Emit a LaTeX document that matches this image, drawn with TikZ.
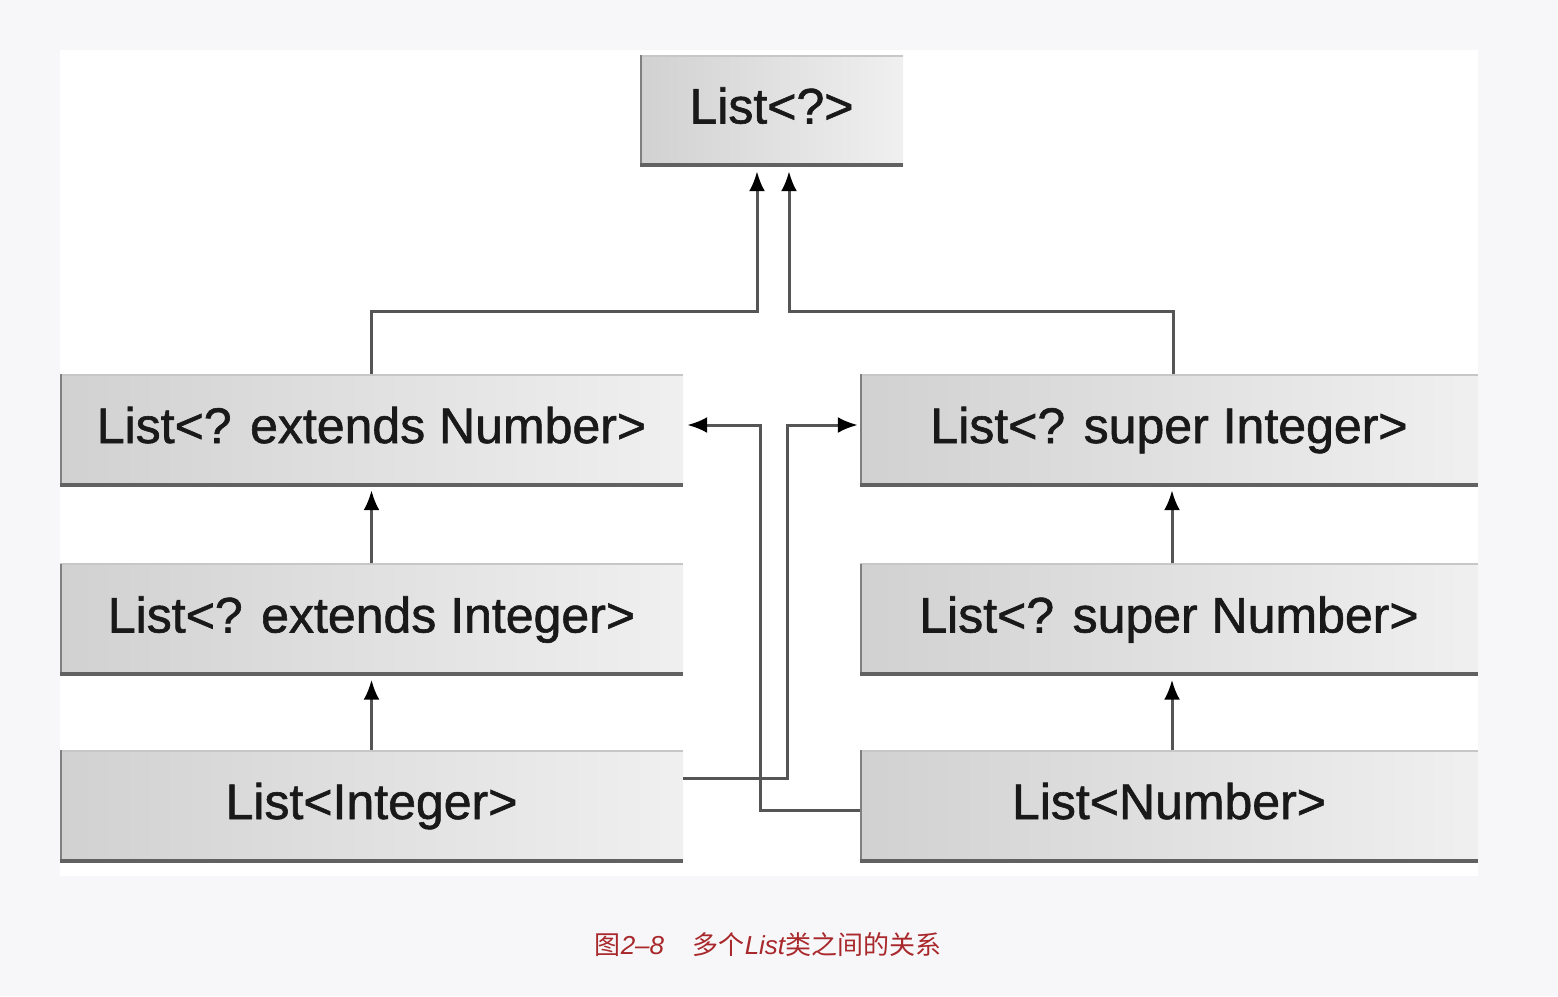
\documentclass[tikz,border=0pt]{standalone}
\usepackage{fontspec}
\setmainfont{Liberation Sans}
\newfontfamily\boxfont[FakeBold=1.2]{Liberation Sans}
\newfontfamily\cjkfont{Noto Sans CJK SC}
\usetikzlibrary{arrows.meta}
\usetikzlibrary{calc}
\definecolor{panelbg}{HTML}{F7F7F9}
\definecolor{linegray}{HTML}{555555}
\definecolor{captionred}{HTML}{A8282C}

\tikzset{
  listbox/.style={minimum height=112pt, inner sep=0pt, left color=black!18, right color=black!6,
    text=black!90, font=\boxfont\fontsize{50}{60}\selectfont, text height=36pt, text depth=10pt,
    path picture={
      \draw[black!22, line width=3pt] (path picture bounding box.north west) -- (path picture bounding box.north east);
      \draw[black!50, line width=3pt] (path picture bounding box.north west) -- (path picture bounding box.south west);
      \draw[black!62, line width=7pt] (path picture bounding box.south west) -- (path picture bounding box.south east);
    }},
  link/.style={draw=linegray, line width=3pt},
  arr/.style={link, -{Latex[length=20pt,width=16pt,color=black]}},
}

\begin{document}
\begin{tikzpicture}[x=1pt,y=-1pt]
    \useasboundingbox (0,0) rectangle (1558,996);
    \fill[panelbg] (0,0) rectangle (1558,996);
    \fill[white] (60,50) rectangle (1478,876);

    \node[listbox, minimum width=263pt, minimum height=111pt] (top) at (771.5,110.5) {List<?>};

    \node[listbox, minimum width=623pt] (en) at (371.5,430) {List<? extends Number>};
    \node[listbox, minimum width=623pt] (ei) at (371.5,619.5) {List<? extends Integer>};
    \node[listbox, minimum width=623pt] (li) at (371.5,806) {List<Integer>};

    \node[listbox, minimum width=618pt] (si) at (1169,430) {List<? super Integer>};
    \node[listbox, minimum width=618pt] (sn) at (1169,619.5) {List<? super Number>};
    \node[listbox, minimum width=618pt] (ln) at (1169,806) {List<Number>};

    \coordinate (lk) at (757,311);
    \coordinate (rk) at (789,311);
    \coordinate (lv) at (760,425);
    \coordinate (rv) at (787,425);

    \draw [arr, shorten >=5pt] (en.north) |- (lk) -- (lk |- top.south);
    \draw [arr, shorten >=5pt] ([xshift=4pt]si.north) |- (rk) -- (rk |- top.south);

    \draw [arr, shorten >=4pt] (ei.north) -- (en.south);
    \draw [arr, shorten >=4pt] (li.north) -- (ei.south);
    \draw [arr, shorten >=4pt] ([xshift=3pt]sn.north) -- ([xshift=3pt]si.south);
    \draw [arr, shorten >=4pt] ([xshift=3pt]ln.north) -- ([xshift=3pt]sn.south);

    \draw [arr, shorten >=2pt] ([yshift=28pt]li.east) -| (rv) -- ([yshift=5pt]si.west);
    \draw [arr, shorten >=4pt] ([yshift=-4pt]ln.west) -| (lv) -- ([yshift=5pt]en.east);

    \node[text=captionred, font=\fontsize{26}{30}\selectfont] (cap) at (768,945)
      {\cjkfont 图{\normalfont\itshape 2--8}\hspace{1.1em}多个{\normalfont\itshape List}类之间的关系};
  \end{tikzpicture}
\end{document}
